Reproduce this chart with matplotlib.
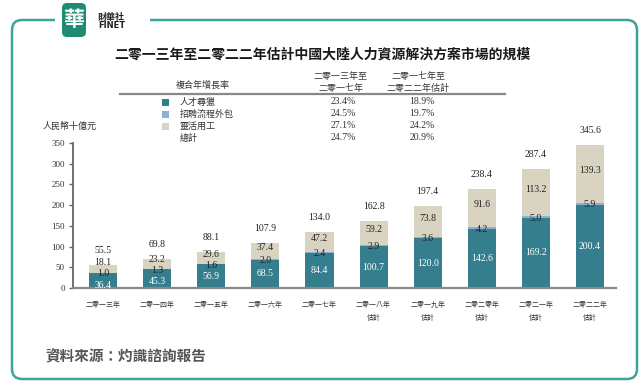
import matplotlib
matplotlib.use("Agg")
import matplotlib.pyplot as plt
from matplotlib.patches import FancyBboxPatch, Rectangle
import numpy as np

plt.rcParams['font.family'] = ['Noto Sans CJK TC', 'DejaVu Sans']

# ---------------- data ----------------
categories = ["二零一三年", "二零一四年", "二零一五年", "二零一六年", "二零一七年",
              "二零一八年\n估計", "二零一九年\n估計", "二零二零年\n估計", "二零二一年\n估計", "二零二二年\n估計"]
talent = [36.4, 45.3, 56.9, 68.5, 84.4, 100.7, 120.0, 142.6, 169.2, 200.4]
rpo = [1.0, 1.3, 1.6, 2.0, 2.4, 2.9, 3.6, 4.2, 5.0, 5.9]
flexible = [18.1, 23.2, 29.6, 37.4, 47.2, 59.2, 73.8, 91.6, 113.2, 139.3]
total = [55.5, 69.8, 88.1, 107.9, 134.0, 162.8, 197.4, 238.4, 287.4, 345.6]

series_names = ["人才尋獵", "招聘流程外包", "靈活用工", "總計"]
cagr_1317 = ["23.4%", "24.5%", "27.1%", "24.7%"]
cagr_1722 = ["18.9%", "19.7%", "24.2%", "20.9%"]

title = "二零一三年至二零二二年估計中國大陸人力資源解決方案市場的規模"
ylabel = "人民幣十億元"
source = "資料來源：灼識諮詢報告"
yticks = [0, 50, 100, 150, 200, 250, 300, 350]

c_talent = "#347E8E"
c_rpo = "#8FB0D4"
c_flex = "#D9D4C1"
frame_c = "#3AA59A"
num_font = "Liberation Serif"

W, H = 643, 388
fig = plt.figure(figsize=(W / 100, H / 100), dpi=100)

# background overlay in pixel coordinates
bg = fig.add_axes([0, 0, 1, 1], zorder=0)
bg.set_xlim(0, W)
bg.set_ylim(H, 0)
bg.axis("off")

# frame
frame = FancyBboxPatch((12, 20), 625, 359, boxstyle="round,pad=0,rounding_size=10",
                       fill=False, edgecolor=frame_c, linewidth=1.8)
bg.add_patch(frame)
bg.add_patch(Rectangle((55, 10), 95, 20, facecolor="white", edgecolor="none", zorder=3))

# logo
logo = FancyBboxPatch((62, 3), 24, 34, boxstyle="round,pad=0,rounding_size=5",
                      facecolor="#1E8B72", edgecolor="none", zorder=4)
bg.add_patch(logo)
bg.text(74, 20, "華", color="white", fontsize=15, fontweight="bold",
        ha="center", va="center", zorder=5)
bg.text(98, 17, "財華社", color="#222222", fontsize=6.5, fontweight="bold",
        ha="left", va="center", zorder=5)
bg.text(98, 26, "FINET", color="#222222", fontsize=6, fontweight="bold",
        family="DejaVu Sans", ha="left", va="center", zorder=5)

# title
bg.text(322, 55, title, fontsize=10, fontweight="bold", ha="center", va="center", color="#1a1a1a")

# table
bg.text(203, 85, "複合年增長率", fontsize=6.5, ha="center", va="center", color="#333333")
bg.text(341, 76, "二零一三年至", fontsize=6.5, ha="center", va="center", color="#333333")
bg.text(341, 88, "二零一七年", fontsize=6.5, ha="center", va="center", color="#333333")
bg.text(418, 76, "二零一七年至", fontsize=6.5, ha="center", va="center", color="#333333")
bg.text(418, 88, "二零二二年估計", fontsize=6.5, ha="center", va="center", color="#333333")
bg.plot([120, 505], [94, 94], color="#888888", linewidth=1.6)

row_y = [102, 114, 126, 138]
sq_cols = [c_talent, c_rpo, c_flex, None]
for i, name in enumerate(series_names):
    if sq_cols[i] is not None:
        bg.add_patch(Rectangle((162, row_y[i] - 3.5), 7, 7, facecolor=sq_cols[i], edgecolor="none"))
    bg.text(180, row_y[i], name, fontsize=6.5, ha="left", va="center", color="#333333")
    bg.text(343, row_y[i], cagr_1317[i], fontsize=7, family=num_font, ha="center", va="center", color="#333333")
    bg.text(422, row_y[i], cagr_1722[i], fontsize=7, family=num_font, ha="center", va="center", color="#333333")

bg.text(43, 126, ylabel, fontsize=6.5, ha="left", va="center", color="#333333")
bg.text(45, 356, source, fontsize=10.5, fontweight="bold", style="italic",
        ha="left", va="center", color="#555555")

# ---------------- chart ----------------
ax = fig.add_axes([73 / W, 1 - 288 / H, (616 - 73) / W, (288 - 143) / H], zorder=2)
ax.patch.set_alpha(0)
x = np.arange(len(categories))
bw = 0.52
t = np.array(talent)
r = np.array(rpo)
f = np.array(flexible)
ax.bar(x, t, bw, color=c_talent, edgecolor="none")
ax.bar(x, r, bw, bottom=t, color=c_rpo, edgecolor="none")
ax.bar(x, f, bw, bottom=t + r, color=c_flex, edgecolor="none")

for i in range(len(x)):
    ry = t[i] + r[i] / 2 - 3
    ty = min(t[i] / 2, ry - 27)
    fy = max(t[i] + r[i] + f[i] / 2 + 8, ry + 27)
    ax.text(x[i], ty, f"{t[i]:.1f}", color="white", fontsize=7, family=num_font,
            ha="center", va="center")
    ax.text(x[i], ry, f"{r[i]:.1f}", color="#222222", fontsize=7, family=num_font,
            ha="center", va="center")
    ax.text(x[i], fy, f"{f[i]:.1f}", color="#222222", fontsize=7, family=num_font,
            ha="center", va="center")
    ax.annotate(f"{total[i]:.1f}", (x[i], total[i]), xytext=(0, 10), textcoords="offset pixels",
                color="#222222", fontsize=7, family=num_font, ha="center", va="bottom")

ax.set_xlim(-0.555, 9.48)
ax.set_ylim(0, 350)
ax.set_yticks(yticks)
ax.set_yticklabels([str(v) for v in yticks], family=num_font, fontsize=6.5, color="#333333")
ax.set_xticks(x)
ax.set_xticklabels(categories, fontsize=5, color="#333333", linespacing=1.9)
ax.tick_params(axis="x", length=0, pad=9)
ax.tick_params(axis="y", length=3, width=1, color="#666666", pad=3)
for s in ["top", "right"]:
    ax.spines[s].set_visible(False)
ax.spines["left"].set_color("#666666")
ax.spines["left"].set_linewidth(1.3)
ax.spines["bottom"].set_color("#888888")
ax.spines["bottom"].set_linewidth(1.6)

fig.savefig("out.png", dpi=100)
